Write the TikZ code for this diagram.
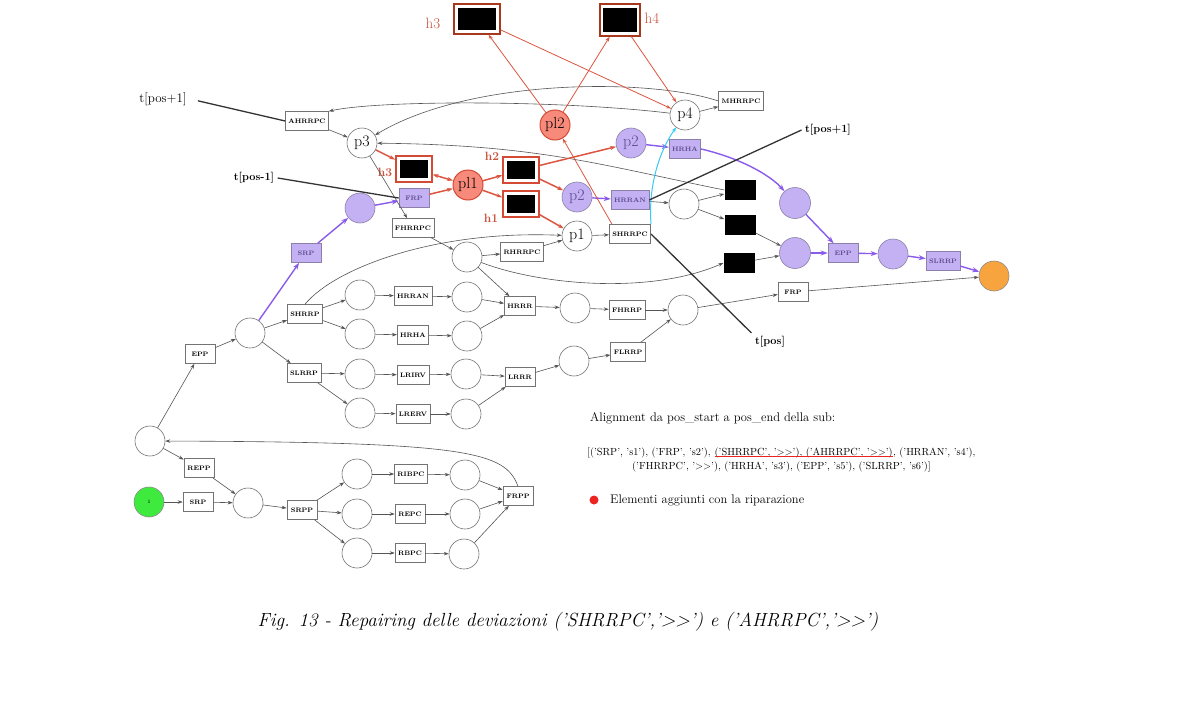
\documentclass[tikz,border=0pt]{standalone}
\usepackage{fontspec}
\usetikzlibrary{arrows.meta}

\definecolor{lav}{HTML}{C3B1F3}
\definecolor{lavline}{HTML}{8C80A8}
\definecolor{lavtext}{HTML}{5A4A8A}
\definecolor{purparc}{HTML}{8A5BEB}
\definecolor{salmon}{HTML}{F78A7A}
\definecolor{redline}{HTML}{DB5540}
\definecolor{hred}{HTML}{D44A34}
\definecolor{hdark}{HTML}{A8381C}
\definecolor{hlabel}{HTML}{C9503A}
\definecolor{startgreen}{HTML}{3EEA3E}
\definecolor{endorange}{HTML}{F7A43E}
\definecolor{skyline}{HTML}{38CBF2}
\definecolor{arcgray}{HTML}{555555}
\definecolor{dotred}{HTML}{EC2320}

\newcommand\dblgt{>\kern0pt>}

\tikzset{
  place/.style={circle, draw=black!55, fill=white, minimum size=30pt, inner sep=0pt, line width=0.6pt, font=\fontsize{16}{16}\selectfont},
  pplace/.style={place, fill=lav, draw=lavline, text=lavtext},
  rplace/.style={place, fill=salmon, draw=hred, line width=1pt},
  trans/.style={rectangle, draw=black!55, fill=white, line width=0.6pt, minimum width=30pt, minimum height=19pt, inner xsep=3pt, font=\fontsize{6.5}{7}\selectfont\bfseries},
  ptrans/.style={trans, fill=lav, draw=lavline, text=lavtext},
  silent/.style={rectangle, fill=black, minimum width=31pt, minimum height=20pt},
  hbox/.style={rectangle, fill=black, draw=white, line width=2.4pt, preaction={draw=hred, line width=6.4pt}, minimum width=31pt, minimum height=21pt, outer sep=3.2pt},
  htop/.style={rectangle, fill=black, draw=white, line width=2.4pt, preaction={draw=hdark, line width=6.4pt}, outer sep=3.2pt},
  hlab/.style={text=hlabel, font=\fontsize{12}{12}\selectfont\bfseries},
  htoplab/.style={text=hlabel, font=\fontsize{15}{15}\selectfont},
  arc/.style={draw=arcgray, line width=0.6pt, -{Stealth[length=5pt,width=3.5pt]}},
  parc/.style={draw=purparc, line width=1.4pt, -{Stealth[length=7pt,width=5pt]}},
  rarc/.style={draw=redline, line width=1.5pt, -{Stealth[length=6pt,width=4pt]}},
  rthin/.style={draw=redline, line width=0.8pt, -{Stealth[length=5pt,width=3.5pt]}},
  pointer/.style={draw=black!80, line width=1.3pt},
  tlab/.style={font=\fontsize{11}{11}\selectfont\bfseries},
  listtxt/.style={font=\fontsize{10.3}{11}\selectfont, inner xsep=0pt}
}

\begin{document}
\begin{tikzpicture}[x=1pt,y=-1pt]
  \fill[white] (0,0) rectangle (1188,720);

  % repair part, top
  \node[htop, minimum width=41pt, minimum height=25pt] (h3t) at (477,19) {};
  \node[htop, minimum width=36pt, minimum height=27pt] (h4t) at (620,20) {};
  \node[htoplab] at (433,23) {h3};
  \node[htoplab] at (652,18) {h4};
  \node[rplace] (pl2) at (555,125) {pl2};
  \node[place] (p4) at (685,115) {p4};
  \node[trans] (mhrrpc) at (741,101) {MHRRPC};
  \node[trans] (ahrrpc) at (307,121) {AHRRPC};
  \node[place] (p3) at (362,143) {p3};
  \node[hbox] (h3m) at (414,169) {};
  \node[hlab] at (385,172) {h3};
  \node[ptrans] (frpP) at (414,198) {FRP};
  \node[rplace] (pl1) at (468,185) {pl1};
  \node[hbox] (h2m) at (521,170) {};
  \node[hlab] at (492,156) {h2};
  \node[hbox] (h1m) at (521,204) {};
  \node[hlab] at (491,218) {h1};
  \node[pplace] (p2u) at (631,143) {p2};
  \node[ptrans] (hrhaP) at (685,149) {HRHA};
  \node[pplace] (p2l) at (577,197) {p2};
  \node[ptrans] (hrranP) at (630,200) {HRRAN};
  \node[place] (p1) at (577,236) {p1};
  \node[trans] (shrrpc) at (630,234) {SHRRPC};
  \node[trans] (fhrrpc) at (413,228) {FHRRPC};
  \node[place] (qR) at (467,257) {};
  \node[trans] (rhrrpc) at (522,252) {RHRRPC};
  \node[place] (qX) at (684,204) {};
  \node[silent] (sA) at (740,190) {};
  \node[silent] (sB) at (740,225) {};
  \node[silent] (sC) at (739,263) {};
  \node[pplace, minimum size=31pt] (vA) at (795,203) {};
  \node[pplace, minimum size=31pt] (vB) at (795,253) {};
  \node[ptrans] (eppP) at (843,253) {EPP};
  \node[pplace] (vC) at (893,254) {};
  \node[ptrans] (slrrpP) at (943,261) {SLRRP};
  \node[place, fill=endorange, draw=black!45] (pend) at (994,276) {};
  \node[trans] (frpW) at (793,292) {FRP};

  % main net, middle
  \node[place] (pbig) at (150,441) {};
  \node[trans] (eppW) at (200,354) {EPP};
  \node[place] (q1) at (250,333) {};
  \node[ptrans] (srpP) at (306,253) {SRP};
  \node[pplace] (v0) at (360,208) {};
  \node[trans] (shrrp) at (305,314) {SHRRP};
  \node[trans] (slrrp) at (304,373) {SLRRP};
  \node[place] (a1) at (360,295) {};
  \node[trans] (hrranW) at (413,296) {HRRAN};
  \node[place] (a2) at (467,297) {};
  \node[place] (b1) at (360,334) {};
  \node[trans] (hrhaW) at (413,335) {HRHA};
  \node[place] (b2) at (467,336) {};
  \node[place] (c1) at (360,374) {};
  \node[trans] (lrirv) at (413,375) {LRIRV};
  \node[place] (c2) at (466,374) {};
  \node[place] (d1) at (360,413) {};
  \node[trans] (lrerv) at (413,414) {LRERV};
  \node[place] (d2) at (466,414) {};
  \node[trans] (hrrr) at (520,306) {HRRR};
  \node[place] (e1) at (575,308) {};
  \node[trans] (fhrrp) at (627,310) {FHRRP};
  \node[place] (join) at (683,310) {};
  \node[trans] (lrrr) at (520,377) {LRRR};
  \node[place] (f1) at (574,361) {};
  \node[trans] (flrrp) at (628,352) {FLRRP};

  % main net, bottom
  \node[place, fill=startgreen, draw=black!45, font=\fontsize{5}{5}\selectfont] (start) at (149,502) {1};
  \node[trans] (srpW) at (198,502) {SRP};
  \node[trans] (repp) at (199,468) {REPP};
  \node[place] (g0) at (248,503) {};
  \node[trans] (srpp) at (302,510) {SRPP};
  \node[place] (k1) at (357,474) {};
  \node[trans] (ribpc) at (411,474) {RIBPC};
  \node[place] (k2) at (465,475) {};
  \node[place] (m1) at (357,514) {};
  \node[trans] (repc) at (410,514) {REPC};
  \node[place] (m2) at (465,514) {};
  \node[place] (n1) at (357,553) {};
  \node[trans] (rbpc) at (410,553) {RBPC};
  \node[place] (n2) at (464,554) {};
  \node[trans] (frpp) at (518,496) {FRPP};

  % gray arcs
  \foreach \a/\b in {start/srpW, srpW/g0, pbig/repp, repp/g0, g0/srpp, srpp/k1, srpp/m1, srpp/n1,
      k1/ribpc, ribpc/k2, m1/repc, repc/m2, n1/rbpc, rbpc/n2, k2/frpp, m2/frpp, n2/frpp,
      pbig/eppW, eppW/q1, q1/shrrp, q1/slrrp, shrrp/a1, shrrp/b1, a1/hrranW, hrranW/a2,
      b1/hrhaW, hrhaW/b2, slrrp/c1, slrrp/d1, c1/lrirv, lrirv/c2, d1/lrerv, lrerv/d2,
      a2/hrrr, b2/hrrr, c2/lrrr, d2/lrrr, hrrr/e1, e1/fhrrp, fhrrp/join, lrrr/f1, f1/flrrp,
      flrrp/join, join/frpW, frpW/pend, qR/hrrr, qR/rhrrpc, rhrrpc/p1, fhrrpc/qR, p3/fhrrpc,
      p1/shrrpc, hrranP/qX, qX/sA, qX/sB, sB/vB, sC/vB, ahrrpc/p3, p4/mhrrpc}
    \draw[arc] (\a) -- (\b);
  \draw[arc] (frpp.north) .. controls (505,452) and (470,442) .. (pbig);
  \draw[arc] (shrrp.north) .. controls (335,268) and (435,230) .. (p1);
  \draw[arc] (qR) .. controls (540,285) and (650,295) .. (sC.west);
  \draw[arc] (sA.west) .. controls (600,165) and (540,145) .. (p3);
  \draw[arc] (p4) .. controls (560,100) and (380,100) .. (ahrrpc.north east);
  \draw[arc] (mhrrpc.west) .. controls (650,78) and (470,78) .. (p3);

  % purple arcs
  \foreach \a/\b in {q1/srpP, srpP/v0, v0/frpP, p2l/hrranP, p2u/hrhaP, vA/eppP, vB/eppP,
      eppP/vC, vC/slrrpP, slrrpP/pend}
    \draw[parc] (\a) -- (\b);
  \draw[parc] (hrhaP.east) .. controls (740,158) and (770,175) .. (vA);

  % red arcs
  \foreach \a/\b in {p3/h3m, frpP/pl1, pl1/h2m, pl1/h1m, h2m/p2u, h2m/p2l, h1m/p1}
    \draw[rarc] (\a) -- (\b);
  \draw[rarc, {Stealth[length=6pt,width=4pt]}-{Stealth[length=6pt,width=4pt]}] (h3m) -- (pl1);
  \foreach \a/\b in {pl2/h3t, pl2/h4t, h3t/p4, h4t/p4}
    \draw[rthin] (\a) -- (\b);
  \draw[rthin] ([xshift=3pt]shrrpc.north west) -- (pl2);
  \draw[draw=skyline, line width=1pt, -{Stealth[length=5pt,width=4pt]}] (shrrpc.north east) .. controls (648,185) and (660,150) .. (p4);

  % pointers
  \node[font=\fontsize{13}{13}\selectfont] (tpl) at (163,99) {t[pos+1]};
  \node[tlab] (tmn) at (254,178) {t[pos-1]};
  \node[tlab] (tpr) at (828,130) {t[pos+1]};
  \node[tlab] (tps) at (770,342) {t[pos]};
  \draw[pointer, shorten <=8pt] (tpl.east) -- (ahrrpc.west);
  \draw[pointer] (tmn.east) -- (frpP.west);
  \draw[pointer] (tpr.west) -- (hrranP.east);
  \draw[pointer] (shrrpc.east) -- (tps.north west);

  % alignment text
  \node[anchor=base west, inner xsep=0pt, font=\fontsize{12.5}{13}\selectfont] (title) at (590,421) {Alignment da pos\_start a pos\_end della sub:};
  \node[listtxt, anchor=base west] (la) at (587,455) {[('SRP', 's1'), ('FRP', 's2'),};
  \node[listtxt, anchor=base west] (lb) at ([xshift=3.5pt]la.base east) {('SHRRPC', '\dblgt'), ('AHRRPC', '\dblgt')};
  \node[listtxt, anchor=base west] (lc) at (lb.base east) {, ('HRRAN', 's4'),};
  \node[listtxt, anchor=base west] (ld) at (632,469) {('FHRRPC', '\dblgt'), ('HRHA', 's3'), ('EPP', 's5'), ('SLRRP', 's6')]};
  \draw[dotred, line width=0.8pt] ([yshift=-1.8pt]lb.base west) -- ([yshift=-1.8pt]lb.base east);
  \node[circle, fill=dotred, minimum size=9pt, inner sep=0pt] (dot) at (594,500) {};
  \node[anchor=west, inner xsep=0pt, font=\fontsize{12.5}{13}\selectfont] (leg) at (610,500) {Elementi aggiunti con la riparazione};

  % caption
  \node[font=\fontsize{19}{21}\selectfont\itshape] (cap) at (568,622) {Fig. 13 - Repairing delle deviazioni ('SHRRPC','\dblgt') e ('AHRRPC','\dblgt')};
\end{tikzpicture}
\end{document}
